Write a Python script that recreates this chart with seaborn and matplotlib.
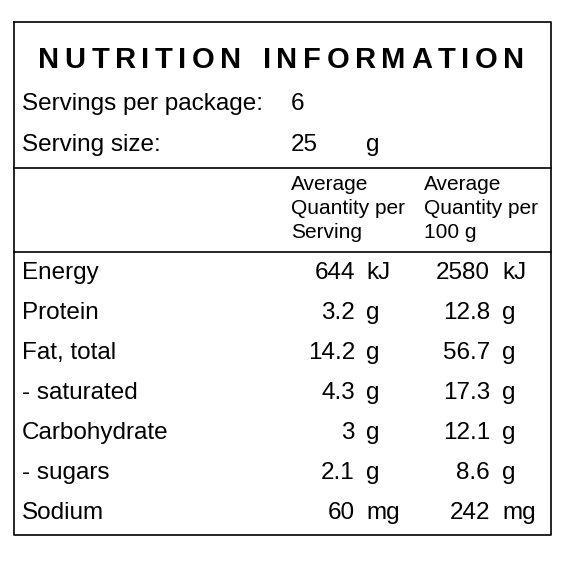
import matplotlib
matplotlib.use("Agg")
import matplotlib.pyplot as plt
import seaborn as sns

sns.set_style("white")
plt.rcParams['font.family'] = ['Liberation Sans', 'DejaVu Sans']

title = "NUTRITION INFORMATION"
servings = "6"
serving_size = "25"
serving_unit = "g"
nutrients = ["Energy", "Protein", "Fat, total", "- saturated", "Carbohydrate", "- sugars", "Sodium"]
per_serving = ["644", "3.2", "14.2", "4.3", "3", "2.1", "60"]
per_100g = ["2580", "12.8", "56.7", "17.3", "12.1", "8.6", "242"]
units = ["kJ", "g", "g", "g", "g", "g", "mg"]

fig = plt.figure(figsize=(5.65, 5.63), dpi=100)
ax = fig.add_axes([0, 0, 1, 1])
ax.set_xlim(0, 565); ax.set_ylim(563, 0); ax.axis("off")

ax.plot([14, 551, 551, 14, 14], [22, 22, 535, 535, 22], color="black", lw=1.2)
ax.plot([14, 551], [168, 168], color="black", lw=1.2)
ax.plot([14, 551], [252, 252], color="black", lw=1.2)

fig.canvas.draw()
r = fig.canvas.get_renderer()
fs_t = 21
widths = []
for ch in title:
    t = ax.text(0, 0, ch if ch != " " else "N", fontsize=fs_t, fontweight="bold")
    bb = t.get_window_extent(r)
    widths.append(bb.width * (0.5 if ch == " " else 1))
    t.remove()
x0, x1 = 38, 524
extra = (x1 - x0 - sum(widths)) / (len(title) - 1)
x = x0
for ch, w in zip(title, widths):
    ax.text(x, 60, ch, fontsize=fs_t, fontweight="bold", va="center", ha="left", color="black")
    x += w + extra

fs = 17.5
ax.text(22, 104, "Servings per package:", fontsize=fs, va="center", color="black")
ax.text(291, 104, servings, fontsize=fs, va="center", color="black")
ax.text(22, 145, "Serving size:", fontsize=fs, va="center", color="black")
ax.text(291, 145, serving_size, fontsize=fs, va="center", color="black")
ax.text(366, 145, serving_unit, fontsize=fs, va="center", color="black")

fh = 15
for i, (a, b) in enumerate([("Average", "Average"), ("Quantity per", "Quantity per"), ("Serving", "100 g")]):
    y = 185 + i * 24
    ax.text(291, y, a, fontsize=fh, va="center", color="black")
    ax.text(424, y, b, fontsize=fh, va="center", color="black")

for i, n in enumerate(nutrients):
    y = 273 + i * 40
    ax.text(22, y, n, fontsize=fs, va="center", color="black")
    ax.text(355, y, per_serving[i], fontsize=fs, va="center", ha="right", color="black")
    ax.text(366, y, units[i], fontsize=fs, va="center", color="black")
    ax.text(490, y, per_100g[i], fontsize=fs, va="center", ha="right", color="black")
    ax.text(502, y, units[i], fontsize=fs, va="center", color="black")

fig.savefig("out.png", dpi=100)
